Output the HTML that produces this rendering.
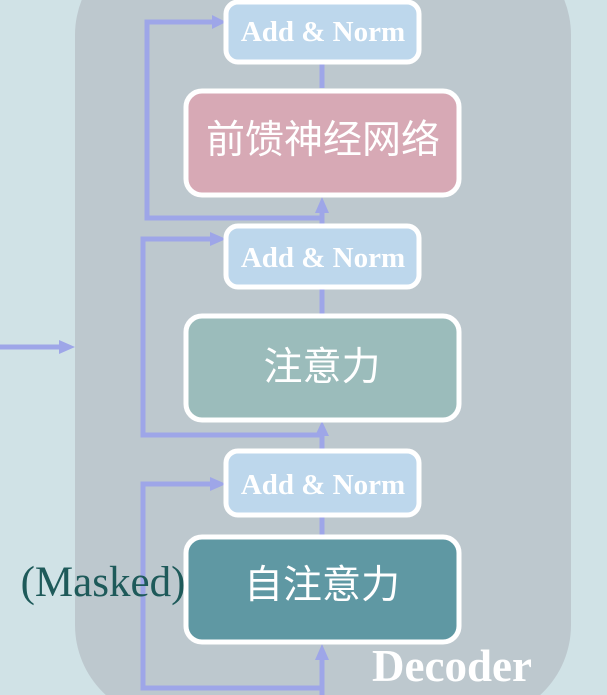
<!DOCTYPE html>
<html><head><meta charset="utf-8"><style>
html,body{margin:0;padding:0;width:607px;height:695px;overflow:hidden;background:#d0e2e6}
svg{display:block;overflow:hidden}
</style></head><body>
<svg width="607" height="695" viewBox="0 0 607 695" xmlns="http://www.w3.org/2000/svg">
<rect x="75" y="-60" width="496" height="780" rx="95" fill="#bdc8ce"/>
<g stroke="#9ea6e8" stroke-width="5" fill="none">
<polyline points="322,212 322,218 147,218 147,22 214,22"/>
<polyline points="322,430 322,435 143,435 143,239 214,239"/>
<polyline points="322,695 322,688 143,688 143,484 214,484"/>
<line x1="322" y1="62" x2="322" y2="88"/>
<line x1="322" y1="218" x2="322" y2="226"/>
<line x1="322" y1="288" x2="322" y2="316"/>
<line x1="322" y1="435" x2="322" y2="451"/>
<line x1="322" y1="515" x2="322" y2="537"/>
<line x1="322" y1="695" x2="322" y2="660"/>
<line x1="0" y1="347" x2="62" y2="347"/>
</g>
<g fill="#9ea6e8">
<polygon points="226,22 212,15 212,29"/>
<polygon points="226,239 210,232 210,246"/>
<polygon points="226,484 210,477 210,491"/>
<polygon points="322,197 315,213 329,213"/>
<polygon points="322,421 315,436 329,436"/>
<polygon points="322,644 315,660 329,660"/>
<polygon points="75,347 59,340 59,354"/>
</g>
<g stroke="#fff" stroke-width="5">
<rect x="226" y="2" width="193" height="60" rx="12" fill="#bdd7ec"/>
<rect x="186" y="91" width="273" height="104" rx="16" fill="#d7a9b5"/>
<rect x="226" y="226" width="193" height="61" rx="12" fill="#bdd7ec"/>
<rect x="186" y="316" width="273" height="104" rx="16" fill="#9bbcbb"/>
<rect x="226" y="451" width="193" height="64" rx="12" fill="#bdd7ec"/>
<rect x="186" y="537" width="273" height="105" rx="16" fill="#5f98a3"/>
</g>
<g font-family="Liberation Serif, serif" font-weight="bold" font-size="29" fill="#fff" text-anchor="middle">
<text x="323" y="41">Add &amp; Norm</text>
<text x="323" y="267">Add &amp; Norm</text>
<text x="323" y="494">Add &amp; Norm</text>
<text x="452" y="681" font-size="45">Decoder</text>
</g>
<g font-family="Liberation Sans, Noto Sans CJK SC, sans-serif" font-size="39" fill="#fff" text-anchor="middle">
<text x="323" y="153">前馈神经网络</text>
<text x="322" y="380">注意力</text>
<text x="322" y="598">自注意力</text>
</g>
<text x="103" y="596" font-family="Liberation Serif, serif" font-size="43" fill="#1e5a5a" text-anchor="middle">(Masked)</text>
</svg>
</body></html>
